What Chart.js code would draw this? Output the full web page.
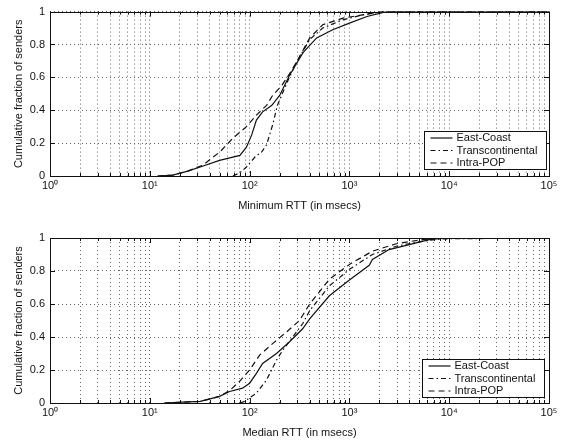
<!DOCTYPE html>
<html>
<head>
<meta charset="utf-8">
<script src="https://cdn.jsdelivr.net/npm/chart.js@4.4.1/dist/chart.umd.min.js"></script>
<style>
  html, body { margin: 0; padding: 0; background: #fff; }
  #wrap { position: relative; width: 567px; height: 442px; }
  .panel { position: absolute; left: 0; width: 567px; }
  #top { top: 0; height: 215px; }
  #bottom { top: 215px; height: 227px; }
</style>
</head>
<body>
<div id="wrap">
  <div class="panel" id="top"><canvas id="minChart" width="567" height="215"></canvas></div>
  <div class="panel" id="bottom"><canvas id="medChart" width="567" height="227"></canvas></div>
</div>
<script>
const seriesLabels = ['East-Coast', 'Transcontinental', 'Intra-POP'];
const xTickLabels = ['10\u2070', '10\u00b9', '10\u00b2', '10\u00b3', '10\u2074', '10\u2075'];
const yTickLabels = ['0', '0.2', '0.4', '0.6', '0.8', '1'];

// Minimum RTT (msecs) vs cumulative fraction of senders
const minEastX = [12, 17, 24, 32, 50, 80, 93, 105, 117, 135, 167, 200, 250, 343, 470, 680, 1000, 1500, 2350, 100000];
const minEastY = [0, 0.005, 0.03, 0.055, 0.095, 0.125, 0.175, 0.25, 0.34, 0.39, 0.43, 0.49, 0.61, 0.75, 0.84, 0.89, 0.93, 0.97, 1, 1];
const minTransX = [68, 80, 93, 117, 130, 148, 170, 190, 209, 250, 300, 400, 540, 860, 1350, 2200, 100000];
const minTransY = [0, 0.02, 0.055, 0.125, 0.14, 0.19, 0.31, 0.43, 0.49, 0.60, 0.70, 0.83, 0.90, 0.95, 0.98, 1, 1];
const minIntraX = [12, 17, 24, 34, 50, 68, 93, 117, 148, 170, 210, 250, 300, 400, 540, 860, 1350, 2100, 100000];
const minIntraY = [0, 0.005, 0.03, 0.066, 0.145, 0.23, 0.30, 0.37, 0.43, 0.49, 0.55, 0.62, 0.70, 0.84, 0.92, 0.96, 0.98, 1, 1];

// Median RTT (msecs) vs cumulative fraction of senders
const medEastX = [14, 21, 32, 50, 63, 85, 100, 117, 135, 186, 250, 340, 400, 630, 1000, 1580, 1700, 2500, 3980, 6300, 9300, 100000];
const medEastY = [0, 0.005, 0.01, 0.04, 0.07, 0.09, 0.12, 0.18, 0.24, 0.30, 0.37, 0.45, 0.51, 0.65, 0.745, 0.835, 0.87, 0.93, 0.96, 0.99, 1, 1];
const medTransX = [80, 89, 117, 148, 186, 215, 270, 340, 400, 630, 1000, 1700, 2950, 5300, 8500, 100000];
const medTransY = [0, 0.01, 0.06, 0.14, 0.26, 0.32, 0.40, 0.48, 0.56, 0.71, 0.81, 0.90, 0.95, 0.98, 0.995, 1];
const medIntraX = [14, 21, 32, 50, 63, 79, 100, 126, 170, 234, 316, 400, 630, 1000, 1700, 2950, 5300, 8000, 100000];
const medIntraY = [0, 0.005, 0.01, 0.04, 0.075, 0.13, 0.20, 0.29, 0.36, 0.43, 0.50, 0.60, 0.75, 0.84, 0.92, 0.965, 0.99, 1, 1];

const FONT = 'Arial, "Liberation Sans", Helvetica, sans-serif';
const INK = '#111';
const dashes = [[], [5, 3, 1.5, 3], [6, 4]];

// grid/tick positions on the log axis: 1..9 per decade
const xGrid = [];
for (let d = 0; d < 5; d++) {
  for (let m = 1; m < 10; m++) xGrid.push(m * Math.pow(10, d));
}
xGrid.push(100000);

function isDecade(v) {
  const l = Math.log10(v);
  return Math.abs(l - Math.round(l)) < 1e-9;
}

function pts(xs, ys) {
  return xs.map((x, i) => ({ x: x, y: ys[i] }));
}

// box around the plot with inward ticks, like the original figure
const framePlugin = {
  id: 'frame',
  afterDatasetsDraw(chart) {
    const { ctx, chartArea: a, scales } = chart;
    ctx.save();
    ctx.strokeStyle = INK;
    ctx.lineWidth = 1;
    ctx.beginPath();
    scales.x.ticks.forEach(t => {
      const px = Math.round(scales.x.getPixelForValue(t.value)) + 0.5;
      const len = isDecade(t.value) ? 5 : 3;
      ctx.moveTo(px, a.bottom); ctx.lineTo(px, a.bottom - len);
      ctx.moveTo(px, a.top); ctx.lineTo(px, a.top + len);
    });
    scales.y.ticks.forEach(t => {
      const py = Math.round(scales.y.getPixelForValue(t.value)) + 0.5;
      ctx.moveTo(a.left, py); ctx.lineTo(a.left + 5, py);
      ctx.moveTo(a.right, py); ctx.lineTo(a.right - 5, py);
    });
    ctx.stroke();
    ctx.strokeRect(Math.round(a.left) + 0.5, Math.round(a.top) + 0.5,
      Math.round(a.right - a.left), Math.round(a.bottom - a.top));
    ctx.restore();
  }
};

// legend box in the lower right corner of the plot
const boxLegendPlugin = {
  id: 'boxLegend',
  afterDatasetsDraw(chart, args, opts) {
    const { ctx, chartArea: a } = chart;
    const w = 122, h = 38;
    const x0 = Math.round(a.right - opts.right - w) + 0.5;
    const y0 = Math.round(a.bottom - opts.bottom - h) + 0.5;
    ctx.save();
    ctx.fillStyle = '#fff';
    ctx.fillRect(x0, y0, w, h);
    ctx.strokeStyle = INK;
    ctx.lineWidth = 1;
    ctx.strokeRect(x0, y0, w, h);
    ctx.font = '11px ' + FONT;
    ctx.textBaseline = 'middle';
    ctx.fillStyle = INK;
    chart.data.datasets.forEach((ds, i) => {
      const yy = y0 + 6.5 + i * 12.5;
      ctx.beginPath();
      ctx.setLineDash(ds.borderDash || []);
      ctx.lineWidth = ds.borderWidth;
      ctx.moveTo(x0 + 6, yy);
      ctx.lineTo(x0 + 28, yy);
      ctx.stroke();
      ctx.setLineDash([]);
      ctx.fillText(ds.label, x0 + 32, yy);
    });
    ctx.restore();
  }
};

function makeChart(id, xTitle, xs, ys, padTop, legendPos) {
  const datasets = seriesLabels.map((label, i) => ({
    label: label,
    data: pts(xs[i], ys[i]),
    borderColor: INK,
    borderWidth: 1.2,
    borderDash: dashes[i],
    pointRadius: 0,
    tension: 0,
    fill: false
  }));
  return new Chart(document.getElementById(id), {
    type: 'line',
    data: { datasets: datasets },
    options: {
      responsive: false,
      animation: false,
      layout: { padding: { top: padTop, right: 18, left: 0, bottom: 0 } },
      plugins: {
        legend: { display: false },
        tooltip: { enabled: false },
        boxLegend: legendPos
      },
      scales: {
        x: {
          type: 'logarithmic',
          min: 1,
          max: 100000,
          afterBuildTicks: s => { s.ticks = xGrid.map(v => ({ value: v })); },
          afterFit: s => { s.height = 39; },
          grid: { color: '#666', lineWidth: 1, drawTicks: false },
          border: { display: false, dash: [1, 3] },
          ticks: {
            autoSkip: false,
            maxRotation: 0,
            padding: 3,
            color: INK,
            font: { size: 11, family: FONT },
            callback: v => isDecade(v) ? xTickLabels[Math.round(Math.log10(v))] : ''
          },
          title: {
            display: true,
            text: xTitle,
            color: INK,
            font: { size: 11, family: FONT },
            padding: { top: 0, bottom: 2 }
          }
        },
        y: {
          min: 0,
          max: 1,
          afterFit: s => { s.width = 50; },
          grid: { color: '#666', lineWidth: 1, drawTicks: false },
          border: { display: false, dash: [1, 3] },
          ticks: {
            stepSize: 0.2,
            padding: 5,
            color: INK,
            font: { size: 11, family: FONT },
            callback: v => yTickLabels[Math.round(v * 5)]
          },
          title: {
            display: true,
            text: 'Cumulative fraction of senders',
            color: INK,
            font: { size: 11, family: FONT },
            padding: { top: 12, bottom: 0 }
          }
        }
      }
    },
    plugins: [framePlugin, boxLegendPlugin]
  });
}

makeChart('minChart', 'Minimum RTT (in msecs)',
  [minEastX, minTransX, minIntraX], [minEastY, minTransY, minIntraY],
  10, { right: 3, bottom: 7 });

makeChart('medChart', 'Median RTT (in msecs)',
  [medEastX, medTransX, medIntraX], [medEastY, medTransY, medIntraY],
  23, { right: 5, bottom: 6 });
</script>
</body>
</html>
